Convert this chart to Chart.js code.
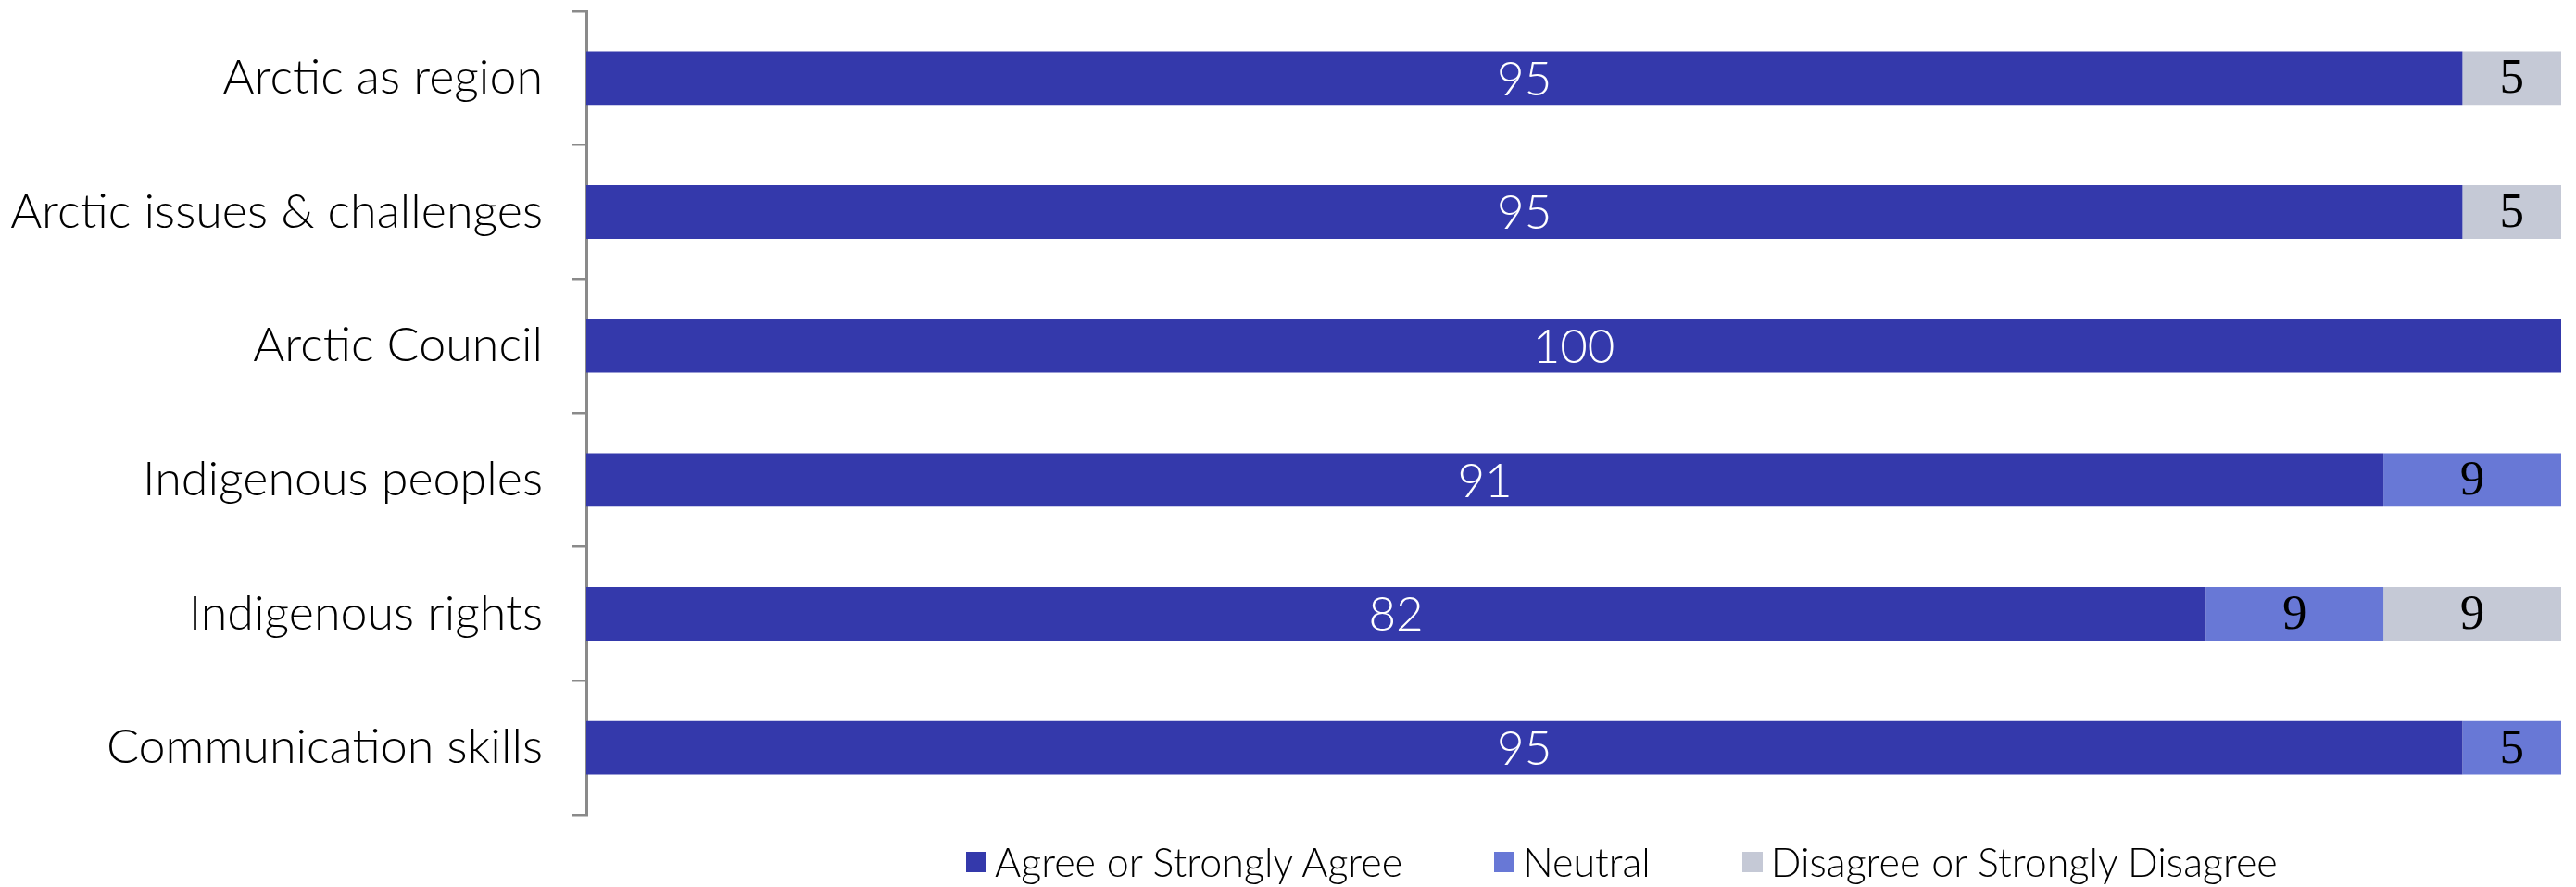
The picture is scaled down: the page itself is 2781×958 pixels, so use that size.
<!DOCTYPE html>
<html>
<head>
<meta charset="utf-8">
<script src="https://cdn.jsdelivr.net/npm/chart.js@4.4.1/dist/chart.umd.min.js"></script>
<style>
  html, body { margin: 0; padding: 0; background: #ffffff; }
  #wrap { position: relative; width: 2781px; height: 958px; }
  #legend { position: absolute; left: 1043px; top: 905px; display: flex; align-items: center;
            font-family: "Lato", sans-serif; font-weight: 300; font-size: 43px; color: #000; white-space: nowrap; }
  .item { display: flex; align-items: center; margin-right: 99px; }
  .box { width: 22px; height: 22px; margin-right: 9px; }
</style>
</head>
<body>
<div id="wrap">
  <canvas id="c" width="2781" height="958"></canvas>
  <div id="legend"></div>
</div>
<script>
const categories = ["Arctic as region", "Arctic issues & challenges", "Arctic Council", "Indigenous peoples", "Indigenous rights", "Communication skills"];
const seriesNames = ["Agree or Strongly Agree", "Neutral", "Disagree or Strongly Disagree"];
const agree = [95, 95, 100, 91, 82, 95];
const neutral = [0, 0, 0, 9, 9, 5];
const disagree = [5, 5, 0, 0, 9, 0];
const colors = ["#3439AB", "#6878D6", "#C5C9D6"];

const labelPlugin = {
  id: 'segLabels',
  afterDatasetsDraw(chart) {
    const ctx = chart.ctx;
    chart.data.datasets.forEach((ds, di) => {
      const meta = chart.getDatasetMeta(di);
      meta.data.forEach((el, i) => {
        const v = ds.data[i];
        if (!v) return;
        const cx = (el.x + el.base) / 2;
        ctx.save();
        ctx.textAlign = 'center';
        ctx.textBaseline = 'middle';
        if (di === 0) {
          ctx.fillStyle = '#ffffff';
          ctx.font = '300 51px "Lato", sans-serif';
        } else {
          ctx.fillStyle = '#000000';
          ctx.font = '53px "Liberation Serif", serif';
        }
        ctx.fillText(String(v), cx, el.y + 2);
        ctx.restore();
      });
    });
  }
};

const chart = new Chart(document.getElementById('c'), {
  type: 'bar',
  data: {
    labels: categories,
    datasets: [
      { label: seriesNames[0], data: agree, backgroundColor: colors[0] },
      { label: seriesNames[1], data: neutral, backgroundColor: colors[1] },
      { label: seriesNames[2], data: disagree, backgroundColor: colors[2] }
    ]
  },
  options: {
    indexAxis: 'y',
    responsive: false,
    devicePixelRatio: 1,
    animation: false,
    layout: { padding: { top: 12, right: 16, bottom: 78, left: 0 } },
    datasets: { bar: { categoryPercentage: 0.8, barPercentage: 0.5, borderWidth: 0 } },
    plugins: { legend: { display: false }, tooltip: { enabled: false } },
    scales: {
      x: { stacked: true, min: 0, max: 100, display: false },
      y: {
        stacked: true,
        afterFit(scale) { scale.width = 633; scale.paddingTop = 0; scale.paddingBottom = 0; },
        border: { display: true, color: '#8a8a8a', width: 3 },
        grid: { offset: true, drawOnChartArea: false, drawTicks: true, tickLength: 16, color: '#8a8a8a', lineWidth: 2.5 },
        ticks: { padding: 31, color: '#000', font: { family: 'Lato', weight: 300, size: 52 } }
      }
    }
  },
  plugins: [labelPlugin]
});

const leg = document.getElementById('legend');
seriesNames.forEach((n, i) => {
  const it = document.createElement('div');
  it.className = 'item';
  const b = document.createElement('div');
  b.className = 'box';
  b.style.background = colors[i];
  const t = document.createElement('span');
  t.textContent = n;
  it.appendChild(b); it.appendChild(t);
  leg.appendChild(it);
});
</script>
</body>
</html>
